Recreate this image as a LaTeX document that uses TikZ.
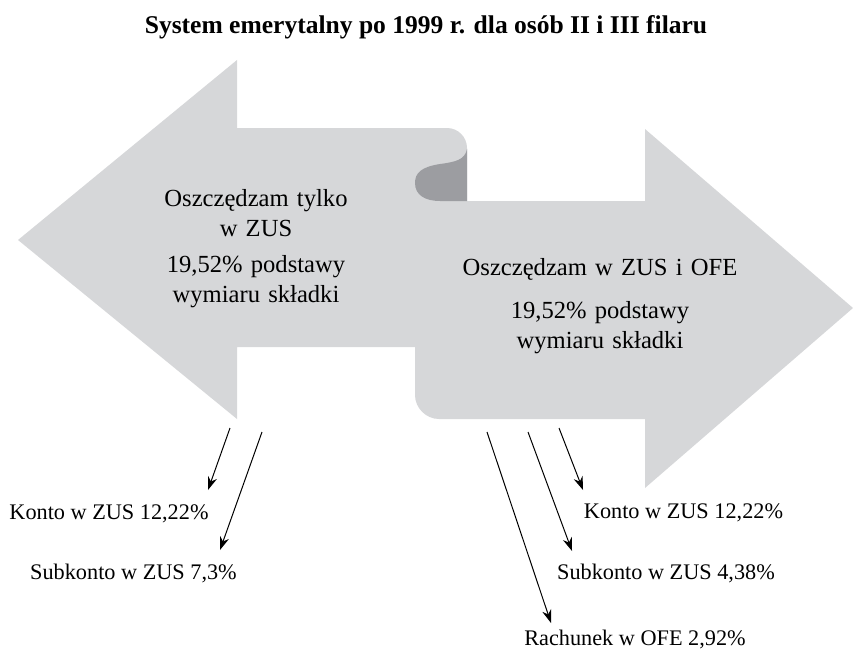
\documentclass[tikz,border=0pt]{standalone}
\usepackage{fontspec}
\setmainfont{Liberation Serif}
\usetikzlibrary{positioning,arrows.meta}
\definecolor{bodygrey}{RGB}{214,215,217}
\definecolor{curlgrey}{RGB}{156,157,161}
\begin{document}
\begin{tikzpicture}[x=0.03cm,y=-0.03cm]

% definitions
\tikzstyle{heading} = [inner sep=0pt, font=\fontsize{21.8}{26}\selectfont\bfseries]

\tikzstyle{maintext} = [inner sep=0pt, text centered, text width=9cm, font=\fontsize{21}{25.5}\selectfont]

\tikzstyle{share} = [inner sep=0pt, font=\fontsize{19}{23}\selectfont]

\tikzstyle{arrow} = [-{Stealth[length=4mm,width=2.8mm]}, line width=0.85pt]

\useasboundingbox (0,0) rectangle (853,649);

% the two big arrows
\fill [bodygrey] (18,240) -- (237,60) -- (237,128) -- (447,128)
  .. controls (458,128) and (467,137) .. (467,148)
  -- (467,201) -- (645,201) -- (645,129) -- (853,308) -- (645,488)
  -- (645,419) -- (439,419) .. controls (426,419) and (415,408) .. (415,395)
  -- (415,347) -- (237,347) -- (237,419) -- cycle;

\fill [curlgrey] (467,149) .. controls (465,160) and (455,162) .. (440,164)
  .. controls (421,167) and (415,173) .. (415,183)
  .. controls (415,195) and (425,201) .. (440,201) -- (467,201) -- cycle;

% the texts
\node (title) [heading] at (426,27) {System emerytalny po 1999 r. dla osób II i III filaru};

\node (zus) [maintext] at (256,213) {Oszczędzam tylko\\ w ZUS};

\node (zusrate) [maintext, below=0.55cm of zus] {19,52\% podstawy\\ wymiaru składki};

\node (ofe) [maintext] at (600,269) {Oszczędzam w ZUS i OFE};

\node (oferate) [maintext, below=0.63cm of ofe] {19,52\% podstawy\\ wymiaru składki};

\node (kontoL) [share] at (109,514) {Konto w ZUS 12,22\%};

\node (subL) [share] at (133.5,573) {Subkonto w ZUS 7,3\%};

\node (kontoR) [share] at (683.5,513) {Konto w ZUS 12,22\%};

\node (subR) [share] at (666,573) {Subkonto w ZUS 4,38\%};

\node (rachR) [share] at (635,639) {Rachunek w OFE 2,92\%};

% the splits
\coordinate (s1) at (230,428);
\coordinate (e1) at (208,490);
\coordinate (s2) at (262,432);
\coordinate (e2) at (220,550);
\coordinate (s3) at (559,428);
\coordinate (e3) at (583,490);
\coordinate (s4) at (528,432);
\coordinate (e4) at (572,551);
\coordinate (s5) at (487,432);
\coordinate (e5) at (551,623);

\draw [arrow] (s1) -- (e1);
\draw [arrow] (s2) -- (e2);
\draw [arrow] (s3) -- (e3);
\draw [arrow] (s4) -- (e4);
\draw [arrow] (s5) -- (e5);

\end{tikzpicture}
\end{document}
